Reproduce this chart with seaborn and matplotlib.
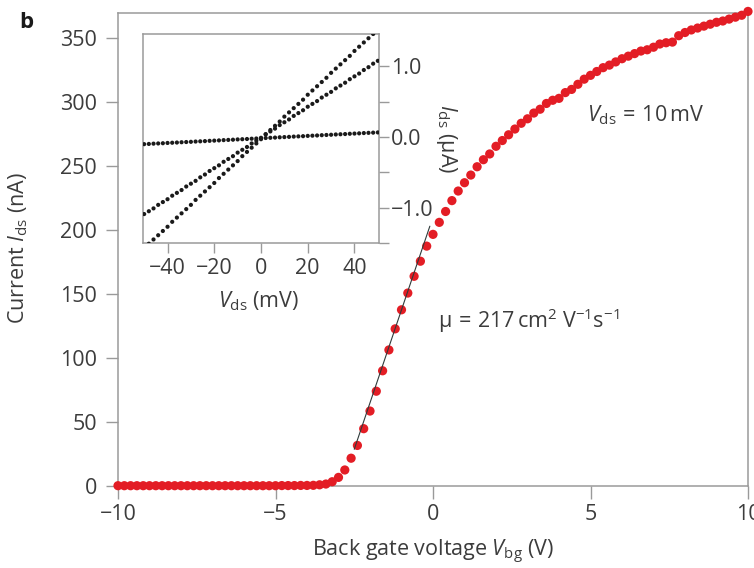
import numpy as np
import pandas as pd
import matplotlib
matplotlib.use("Agg")
import matplotlib.pyplot as plt
from matplotlib.ticker import MultipleLocator
import seaborn as sns

# ---------------- data ----------------
vbg = [-10.0, -9.8, -9.6, -9.4, -9.2, -9.0, -8.8, -8.6, -8.4, -8.2,
       -8.0, -7.8, -7.6, -7.4, -7.2, -7.0, -6.8, -6.6, -6.4, -6.2,
       -6.0, -5.8, -5.6, -5.4, -5.2, -5.0, -4.8, -4.6, -4.4, -4.2,
       -4.0, -3.8, -3.6, -3.4, -3.2, -3.0, -2.8, -2.6, -2.4, -2.2,
       -2.0, -1.8, -1.6, -1.4, -1.2, -1.0, -0.8, -0.6, -0.4, -0.2,
       0.0, 0.2, 0.4, 0.6, 0.8, 1.0, 1.2, 1.4, 1.6, 1.8,
       2.0, 2.2, 2.4, 2.6, 2.8, 3.0, 3.2, 3.4, 3.6, 3.8,
       4.0, 4.2, 4.4, 4.6, 4.8, 5.0, 5.2, 5.4, 5.6, 5.8,
       6.0, 6.2, 6.4, 6.6, 6.8, 7.0, 7.2, 7.4, 7.6, 7.8,
       8.0, 8.2, 8.4, 8.6, 8.8, 9.0, 9.2, 9.4, 9.6, 9.8, 10.0]
ids = [0.0, 0.0, 0.0, 0.0, 0.0, 0.0, 0.0, 0.0, 0.0, 0.0,
       0.0, 0.0, 0.0, 0.0, 0.0, 0.0, 0.0, 0.0, 0.0, 0.0,
       0.0, 0.0, 0.0, 0.0, 0.0, 0.0, 0.1, 0.1, 0.1, 0.2,
       0.2, 0.3, 0.7, 1.3, 3.1, 6.5, 12.3, 21.5, 31.5, 44.6,
       58.4, 73.9, 89.9, 106.2, 122.7, 137.6, 150.7, 163.8, 175.6, 187.4,
       196.6, 206.0, 214.5, 223.0, 230.5, 237.0, 243.0, 249.5, 255.0, 259.5,
       265.5, 270.0, 274.5, 279.0, 283.5, 287.0, 291.5, 294.5, 299.0, 301.5,
       303.0, 307.5, 310.0, 314.0, 318.0, 321.0, 324.0, 327.0, 329.0, 331.5,
       334.0, 336.0, 338.0, 340.0, 341.0, 343.0, 345.5, 346.5, 347.0, 352.0,
       354.5, 356.5, 358.0, 359.5, 361.0, 362.5, 363.5, 365.0, 366.5, 368.0, 371.0]

fit_v = [-2.5, -0.1]
fit_i = [28.5, 203.0]

vds = [-50, -48, -46, -44, -42, -40, -38, -36, -34, -32, -30, -28, -26,
       -24, -22, -20, -18, -16, -14, -12, -10, -8, -6, -4, -2, 0,
       2, 4, 6, 8, 10, 12, 14, 16, 18, 20, 22, 24, 26, 28, 30,
       32, 34, 36, 38, 40, 42, 44, 46, 48, 50]
iv_steep = [-1.58, -1.51, -1.45, -1.39, -1.33, -1.27, -1.20, -1.14, -1.08, -1.02,
            -0.96, -0.89, -0.83, -0.77, -0.71, -0.65, -0.58, -0.52, -0.46, -0.40,
            -0.34, -0.27, -0.21, -0.15, -0.09, -0.03, 0.04, 0.10, 0.16, 0.22,
            0.29, 0.35, 0.41, 0.47, 0.53, 0.60, 0.66, 0.72, 0.78, 0.84,
            0.91, 0.97, 1.03, 1.09, 1.15, 1.22, 1.28, 1.34, 1.40, 1.46, 1.53]
iv_mid = [-1.09, -1.05, -1.01, -0.96, -0.92, -0.88, -0.83, -0.79, -0.75, -0.70,
          -0.66, -0.62, -0.57, -0.53, -0.48, -0.44, -0.40, -0.35, -0.31, -0.27,
          -0.22, -0.18, -0.14, -0.09, -0.05, -0.01, 0.04, 0.08, 0.12, 0.17,
          0.21, 0.25, 0.30, 0.34, 0.38, 0.43, 0.47, 0.51, 0.56, 0.60,
          0.64, 0.69, 0.73, 0.77, 0.82, 0.86, 0.90, 0.95, 0.99, 1.04, 1.08]
iv_flat = [-0.100, -0.097, -0.093, -0.090, -0.087, -0.083, -0.080, -0.077, -0.073, -0.070,
           -0.067, -0.063, -0.060, -0.057, -0.053, -0.050, -0.047, -0.043, -0.040, -0.037,
           -0.033, -0.030, -0.027, -0.023, -0.020, -0.017, -0.013, -0.010, -0.007, -0.003,
           0.000, 0.003, 0.007, 0.010, 0.013, 0.017, 0.020, 0.023, 0.027, 0.030,
           0.033, 0.037, 0.040, 0.043, 0.047, 0.050, 0.053, 0.057, 0.060, 0.063, 0.066]

main_xticks = [-10, -5, 0, 5, 10]
main_xticklabels = ["\u221210", "\u22125", "0", "5", "10"]
main_yticks = [0, 50, 100, 150, 200, 250, 300, 350]
inset_xticks = [-40, -20, 0, 20, 40]
inset_xticklabels = ["\u221240", "\u221220", "0", "20", "40"]
inset_yticks = [-1.0, 0.0, 1.0]
inset_yticklabels = ["\u22121.0", "0.0", "1.0"]

# ---------------- style ----------------
sns.set_theme(style="ticks")
TXT = "#3c3c3c"
SP = "#9a9a9a"
FS = 15.5
plt.rcParams["font.family"] = ["Open Sans", "DejaVu Sans"]
plt.rcParams["mathtext.fontset"] = "custom"
plt.rcParams["mathtext.rm"] = "Open Sans"
plt.rcParams["mathtext.it"] = "Open Sans:italic"
plt.rcParams["axes.unicode_minus"] = True

fig = plt.figure(figsize=(7.54, 5.68), dpi=100)
ax = fig.add_axes([118 / 754, 1 - 485.7 / 568, 630 / 754, 473 / 568])

df = pd.DataFrame({"vbg": vbg, "ids": ids})
sns.scatterplot(data=df, x="vbg", y="ids", ax=ax, s=44, color="#e31d25",
                edgecolor="none", linewidth=0, clip_on=False, zorder=3)
sns.lineplot(x=fit_v, y=fit_i, ax=ax, color="#2f3a3a", lw=0.8, zorder=4)

ax.set_xlim(-10, 10)
ax.set_ylim(0, 370)
ax.set_xticks(main_xticks)
ax.set_xticklabels(main_xticklabels)
ax.set_yticks(main_yticks)
for s in ax.spines.values():
    s.set_color(SP)
    s.set_linewidth(1.1)
ax.tick_params(axis="both", direction="out", length=9, width=1.0, color=SP,
               labelsize=FS, labelcolor=TXT)
ax.tick_params(axis="y", pad=6)
ax.tick_params(axis="x", pad=4)
ax.set_xlabel(r"Back gate voltage $V_{\mathrm{bg}}$ (V)", fontsize=FS, color=TXT)
ax.set_ylabel(r"Current $I_{\mathrm{ds}}$ (nA)", fontsize=FS, color=TXT)
ax.xaxis.set_label_coords(0.5, (485.7 - 538) / 473)
ax.yaxis.set_label_coords((30 - 118) / 630, 0.502)

ax.text(0.16, 129, r"$\mathrm{\mu\,=\,217\,cm^{2}\;V^{-1}s^{-1}}$", fontsize=FS,
        color=TXT, ha="left", va="center")
ax.text(4.89, 290, r"$V_{\mathrm{ds}}\,\mathrm{=}\,\mathrm{10\,mV}$", fontsize=FS,
        color=TXT, ha="left", va="center")
fig.text(26 / 754, 1 - 22 / 568, "b", fontsize=16, fontweight="bold",
         color="#1a1a1a", ha="center", va="center")

# ---------------- inset ----------------
ins = fig.add_axes([143 / 754, 1 - 243 / 568, 236 / 754, 209 / 568])
ins.set_facecolor("white")
idf = pd.DataFrame({
    "vds": vds * 3,
    "i": iv_steep + iv_mid + iv_flat,
    "curve": ["steep"] * len(vds) + ["mid"] * len(vds) + ["flat"] * len(vds),
})
sns.scatterplot(data=idf, x="vds", y="i", hue="curve", ax=ins, s=9,
                palette=["#1a1a1a"] * 3, edgecolor="none", linewidth=0,
                legend=False, zorder=3)
ins.set_xlim(-50.5, 50.5)
ins.set_ylim(-1.5, 1.46)
ins.set_xticks(inset_xticks)
ins.set_xticklabels(inset_xticklabels)
ins.yaxis.tick_right()
ins.yaxis.set_label_position("right")
ins.set_yticks(inset_yticks)
ins.set_yticklabels(inset_yticklabels)
ins.yaxis.set_minor_locator(MultipleLocator(0.5))
for s in ins.spines.values():
    s.set_color(SP)
    s.set_linewidth(1.1)
ins.tick_params(axis="both", which="both", direction="out", length=7, width=1.0,
                color=SP, labelsize=FS, labelcolor=TXT)
ins.tick_params(axis="y", which="major", pad=1.5)
ins.tick_params(axis="x", pad=4)
ins.set_xlabel(r"$V_{\mathrm{ds}}$ (mV)", fontsize=FS, color=TXT)
ins.set_ylabel(r"$I_{\mathrm{ds}}$ ($\mathrm{\mu}$A)", fontsize=FS, color=TXT,
               rotation=-90, va="center", ha="center")
ins.yaxis.set_label_coords((447 - 143) / 236, 0.5)
ins.xaxis.set_label_coords((259 - 143) / 236, (243 - 289) / 209)

fig.savefig("out.png", dpi=100)
